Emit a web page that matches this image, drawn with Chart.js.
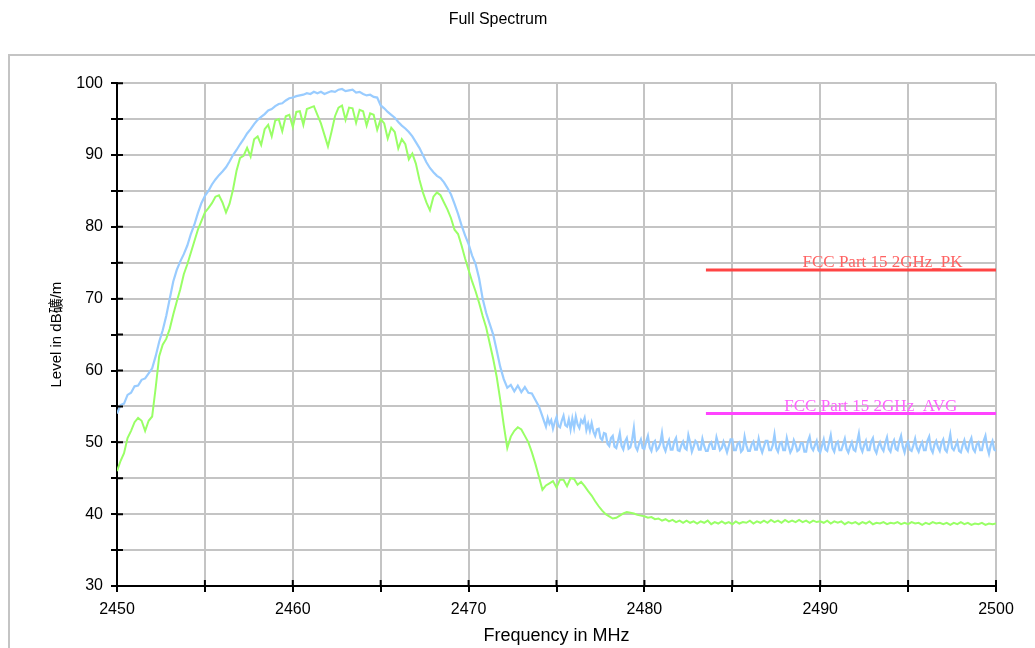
<!DOCTYPE html>
<html>
<head>
<meta charset="utf-8">
<script src="https://cdn.jsdelivr.net/npm/chart.js@4.4.1/dist/chart.umd.min.js"></script>
<style>
  body { margin: 0; background: #fff; overflow: hidden; }
  #frame { position: absolute; left: 8px; top: 54px; width: 1100px; height: 700px; border: 2px solid #c4c4c4; }
  #spectrum { position: absolute; left: 0; top: 0; }
</style>
</head>
<body>
<div id="frame"></div>
<canvas id="spectrum" width="1035" height="648"></canvas>
<script>
// sweep grid: main part every 0.2 MHz, noisy tail of the peak trace every 0.1 MHz
var startFreq = 2450;
var freqStep = 0.2;
var tailStart = 2474;
var tailStep = 0.1;

// peak trace (blue), dBuV/m, 2450.0 .. 2473.8
var peakMain = [
  54.0, 55.2, 55.4, 56.6, 56.9, 57.8, 57.9, 58.7, 58.9, 59.6,
  60.3, 62.0, 64.0, 65.6, 67.6, 70.0, 72.4, 74.0, 75.2, 76.2,
  77.4, 79.0, 80.3, 81.9, 83.3, 84.3, 85.0, 85.9, 86.6, 87.2,
  87.7, 88.3, 89.1, 90.0, 90.7, 91.5, 92.2, 93.0, 93.6, 94.3,
  94.9, 95.3, 95.7, 96.2, 96.4, 96.8, 97.1, 97.2, 97.6, 97.9,
  98.0, 98.2, 98.3, 98.4, 98.6, 98.5, 98.8, 98.6, 98.8, 98.5,
  98.7, 98.9, 98.8, 99.1, 99.2, 98.9, 99.0, 99.1, 98.7, 98.8,
  98.5, 98.3, 98.4, 98.1, 98.0, 96.9, 96.5, 96.0, 95.6, 95.2,
  94.6, 94.1, 93.7, 93.2, 92.6, 91.8, 91.0, 90.0, 89.0, 88.2,
  87.6, 87.1, 86.8, 86.2, 85.4, 84.5, 83.2, 81.8, 80.2, 78.8,
  77.6, 76.0, 74.8, 72.8, 70.0, 68.0, 66.5, 65.0, 62.8, 60.5,
  58.8, 57.6, 58.0, 57.1, 57.9, 57.0, 57.7, 56.9, 56.8, 55.9
];

// peak trace (blue), dBuV/m, 2474.0 .. 2500.0
var peakTail = [
  55.0, 54.3, 53.6, 52.9, 52.2, 53.4, 52.6, 53.1, 51.9, 52.8,
  53.5, 52.3, 52.1, 53.0, 53.7, 52.4, 52.2, 53.2, 51.8, 53.3,
  52.0, 53.6, 52.5, 52.0, 53.1, 52.7, 53.4, 51.7, 52.6, 51.6,
  52.7, 51.5, 50.9, 51.8, 51.9, 50.6, 50.3, 51.3, 51.2, 49.8,
  49.5, 50.6, 50.9, 49.4, 49.2, 50.2, 51.3, 49.5, 49.0, 50.1,
  50.6, 49.1, 49.3, 50.3, 52.0, 49.4, 48.9, 49.8, 50.4, 49.2,
  49.1, 50.1, 50.9, 49.3, 48.8, 49.9, 50.2, 48.9, 49.2, 49.8,
  51.3, 49.4, 48.8, 49.7, 50.3, 49.0, 49.0, 50.1, 50.6, 48.9,
  48.8, 49.6, 50.1, 49.2, 49.0, 51.0, 50.0, 48.7, 49.4, 50.2,
  49.9, 49.0, 49.0, 50.5, 49.5, 48.8, 48.8, 49.7, 50.0, 49.1,
  49.1, 50.7, 49.8, 48.9, 49.2, 50.1, 49.4, 48.6, 49.5, 50.4,
  50.4, 48.9, 48.9, 49.8, 50.0, 48.7, 49.0, 50.8, 49.6, 48.8,
  48.8, 49.7, 50.1, 49.0, 49.0, 50.5, 49.3, 48.6, 49.4, 50.2,
  50.2, 48.9, 48.9, 49.6, 51.1, 49.2, 48.7, 49.8, 50.0, 48.9,
  48.9, 50.6, 49.5, 48.6, 49.1, 50.3, 49.7, 48.8, 49.0, 49.9,
  49.9, 48.7, 48.7, 50.1, 50.8, 49.3, 48.9, 49.6, 50.2, 48.9,
  48.6, 49.5, 50.4, 49.0, 48.8, 49.9, 51.0, 49.2, 48.7, 49.8,
  50.1, 48.9, 48.9, 49.7, 50.5, 49.1, 48.6, 49.4, 50.0, 49.0,
  48.8, 50.0, 51.2, 49.3, 48.7, 49.6, 50.2, 48.9, 48.9, 50.1,
  50.6, 49.0, 48.5, 49.5, 50.0, 49.2, 48.8, 49.9, 50.7, 49.1,
  48.7, 49.8, 50.3, 49.1, 48.9, 50.1, 50.9, 49.4, 48.6, 49.7,
  50.1, 49.0, 48.8, 49.6, 50.5, 49.2, 48.7, 49.5, 50.0, 48.9,
  48.9, 50.2, 50.8, 49.1, 48.6, 49.7, 50.2, 49.3, 48.8, 49.9,
  50.4, 49.0, 48.7, 49.8, 51.1, 49.2, 48.9, 49.5, 50.1, 48.8,
  48.6, 49.6, 50.3, 49.2, 48.8, 50.0, 50.6, 49.1, 48.7, 49.7,
  50.0, 48.9, 48.9, 50.2, 50.9, 49.3, 48.4, 49.6, 50.2, 49.0,
  48.8
];

// average trace (green), dBuV/m, 2450.0 .. 2500.0
var avgLevel = [
  46.0, 47.4, 48.5, 50.6, 51.6, 52.8, 53.4, 53.0, 51.6, 53.0,
  53.6, 57.6, 62.0, 63.6, 64.4, 65.8, 67.8, 69.6, 71.3, 73.4,
  74.8, 76.4, 78.0, 79.6, 80.8, 82.0, 82.6, 83.3, 84.2, 84.4,
  83.4, 82.0, 83.2, 85.2, 87.8, 89.6, 89.9, 91.0, 89.8, 92.2,
  92.6, 91.4, 93.6, 94.2, 92.6, 94.8, 95.0, 93.3, 95.4, 95.6,
  93.9, 96.0, 96.1, 94.2, 96.4, 96.6, 96.8, 95.6, 94.4, 92.8,
  91.2, 93.2, 95.4, 96.6, 96.9, 94.9, 96.6, 96.5, 94.5, 96.3,
  96.1, 94.1, 95.8, 95.6, 93.5, 95.0, 94.4, 92.3, 93.8, 93.2,
  90.9, 92.2, 91.5, 89.4, 90.2, 88.8, 86.6, 84.8, 83.4, 82.3,
  84.2, 84.8, 84.4, 83.4, 82.4, 81.2, 79.6, 79.0, 77.4, 75.6,
  74.0, 72.4, 71.0, 69.4, 67.6, 66.0, 63.8, 61.6, 59.1, 55.9,
  52.4, 49.2, 50.8, 51.6, 52.1, 51.8, 50.9, 50.0, 48.6, 47.0,
  45.2, 43.4, 44.0, 44.3, 44.6, 43.7, 44.8, 44.8, 43.9, 45.0,
  44.9, 44.1, 44.5, 43.9, 43.2, 42.6, 41.8, 41.1, 40.5, 40.0,
  39.7, 39.4, 39.5, 39.8, 40.1, 40.3, 40.2, 40.1, 39.9, 39.8,
  39.7, 39.5, 39.6, 39.3, 39.4, 39.1, 39.3, 39.0, 39.2, 38.9,
  39.1, 38.8, 39.1, 38.8, 39.0, 38.7, 39.0, 38.8, 39.1, 38.6,
  38.9, 38.7, 39.0, 38.7, 38.9, 38.6, 39.0, 38.7, 38.9, 38.8,
  39.1, 38.7, 39.0, 38.8, 39.1, 38.8, 39.2, 38.9, 39.1, 38.8,
  39.2, 38.9, 39.1, 38.9, 39.2, 38.9, 39.1, 38.8, 39.1, 38.9,
  39.0, 38.8, 39.1, 38.7, 39.0, 38.8, 39.0, 38.6, 38.9, 38.7,
  38.9, 38.6, 38.9, 38.7, 39.0, 38.6, 38.8, 38.7, 38.9, 38.6,
  38.8, 38.7, 38.9, 38.6, 38.8, 38.6, 38.9, 38.7, 38.8, 38.5,
  38.8, 38.6, 38.9, 38.7, 38.8, 38.6, 38.8, 38.5, 38.8, 38.6,
  38.9, 38.6, 38.8, 38.5, 38.7, 38.6, 38.8, 38.5, 38.7, 38.6,
  38.7
];

// limit lines
var limitFreqs = [2483.5, 2500];
var pkLimit = [74, 74];
var avgLimit = [54, 54];
var limitNames = ["FCC Part 15 2GHz_PK", "FCC Part 15 2GHz_AVG"];

var yTicks = [30, 40, 50, 60, 70, 80, 90, 100];
var xTicks = [2450, 2460, 2470, 2480, 2490, 2500];

function toPoints(values, f0, step) {
  return values.map(function (v, i) {
    return { x: +(f0 + i * step).toFixed(1), y: v };
  });
}
function limitPoints(values) {
  return values.map(function (v, i) {
    return { x: limitFreqs[i], y: v };
  });
}

var sansFont = "Arial, 'Liberation Sans', 'Noto Sans CJK SC', sans-serif";

// inner halves of the axis tick marks (they cross the axis line)
var crossTicks = {
  id: "crossTicks",
  afterDatasetsDraw: function (chart) {
    var ctx = chart.ctx, area = chart.chartArea;
    var xs = chart.scales.x, ys = chart.scales.y;
    ctx.save();
    ctx.strokeStyle = "#000";
    ctx.lineWidth = 2;
    ctx.beginPath();
    ys.ticks.forEach(function (t) {
      var py = ys.getPixelForValue(t.value);
      ctx.moveTo(area.left, py);
      ctx.lineTo(area.left + 6, py);
    });
    xs.ticks.forEach(function (t) {
      var px = xs.getPixelForValue(t.value);
      ctx.moveTo(px, area.bottom);
      ctx.lineTo(px, area.bottom - 6);
    });
    ctx.stroke();
    ctx.restore();
  }
};

// names written above the limit lines
var limitText = {
  id: "limitText",
  afterDatasetsDraw: function (chart) {
    var ctx = chart.ctx;
    var xs = chart.scales.x, ys = chart.scales.y;
    ctx.save();
    ctx.font = "17px 'Liberation Serif', 'DejaVu Serif', serif";
    ctx.textAlign = "right";
    ctx.textBaseline = "alphabetic";
    ctx.fillStyle = "#ff6262";
    ctx.fillText(limitNames[0], xs.getPixelForValue(2498.1), ys.getPixelForValue(pkLimit[0]) - 3);
    ctx.fillStyle = "#ff62ff";
    ctx.fillText(limitNames[1], xs.getPixelForValue(2497.8), ys.getPixelForValue(avgLimit[0]) - 3);
    ctx.restore();
  }
};

var ctx = document.getElementById("spectrum").getContext("2d");
var spectrumChart = new Chart(ctx, {
  type: "line",
  data: {
    datasets: [
      {
        label: limitNames[0],
        data: limitPoints(pkLimit),
        borderColor: "#ff4444",
        borderWidth: 3,
        pointRadius: 0,
      },
      {
        label: limitNames[1],
        data: limitPoints(avgLimit),
        borderColor: "#ff44ff",
        borderWidth: 3,
        pointRadius: 0,
      },
      {
        label: "Average",
        data: toPoints(avgLevel, startFreq, freqStep),
        borderColor: "#99ff66",
        borderWidth: 2,
        pointRadius: 0,
      },
      {
        label: "Peak",
        data: toPoints(peakMain, startFreq, freqStep).concat(toPoints(peakTail, tailStart, tailStep)),
        borderColor: "#99ccff",
        borderWidth: 2.2,
        pointRadius: 0,
      },
    ],
  },
  options: {
    responsive: false,
    animation: false,
    devicePixelRatio: 1,
    layout: { padding: { left: 0, right: 39, top: 0, bottom: 0 } },
    plugins: {
      legend: { display: false },
      tooltip: { enabled: false },
      title: {
        display: true,
        text: "Full Spectrum",
        color: "#000",
        font: { family: sansFont, size: 16, weight: "normal" },
        padding: { top: 10, bottom: 54 },
      },
    },
    scales: {
      x: {
        type: "linear",
        min: 2450,
        max: 2500,
        afterFit: function (scale) { scale.height = 62; },
        ticks: {
          stepSize: 5,
          padding: 8,
          maxRotation: 0,
          color: "#000",
          font: { family: sansFont, size: 16 },
          callback: function (v) { return xTicks.indexOf(v) >= 0 ? String(v) : ""; },
        },
        grid: { color: "#c4c4c4", lineWidth: 2, tickColor: "#000", tickLength: 6, tickWidth: 2 },
        border: { color: "#000", width: 2 },
        title: {
          display: true,
          text: "Frequency in MHz",
          color: "#000",
          font: { family: sansFont, size: 18 },
          padding: { top: 0, bottom: 1 },
        },
      },
      y: {
        min: 30,
        max: 100,
        afterFit: function (scale) { scale.width = 117; },
        ticks: {
          stepSize: 5,
          padding: 8,
          color: "#000",
          font: { family: sansFont, size: 16 },
          callback: function (v) { return yTicks.indexOf(v) >= 0 ? String(v) : ""; },
        },
        grid: { color: "#c4c4c4", lineWidth: 2, tickColor: "#000", tickLength: 6, tickWidth: 2 },
        border: { color: "#000", width: 2 },
        title: {
          display: true,
          text: "Level in dB礦/m",
          color: "#000",
          font: { family: sansFont, size: 15 },
          padding: { top: 48, bottom: 0 },
        },
      },
    },
  },
  plugins: [crossTicks, limitText],
});
</script>
</body>
</html>
